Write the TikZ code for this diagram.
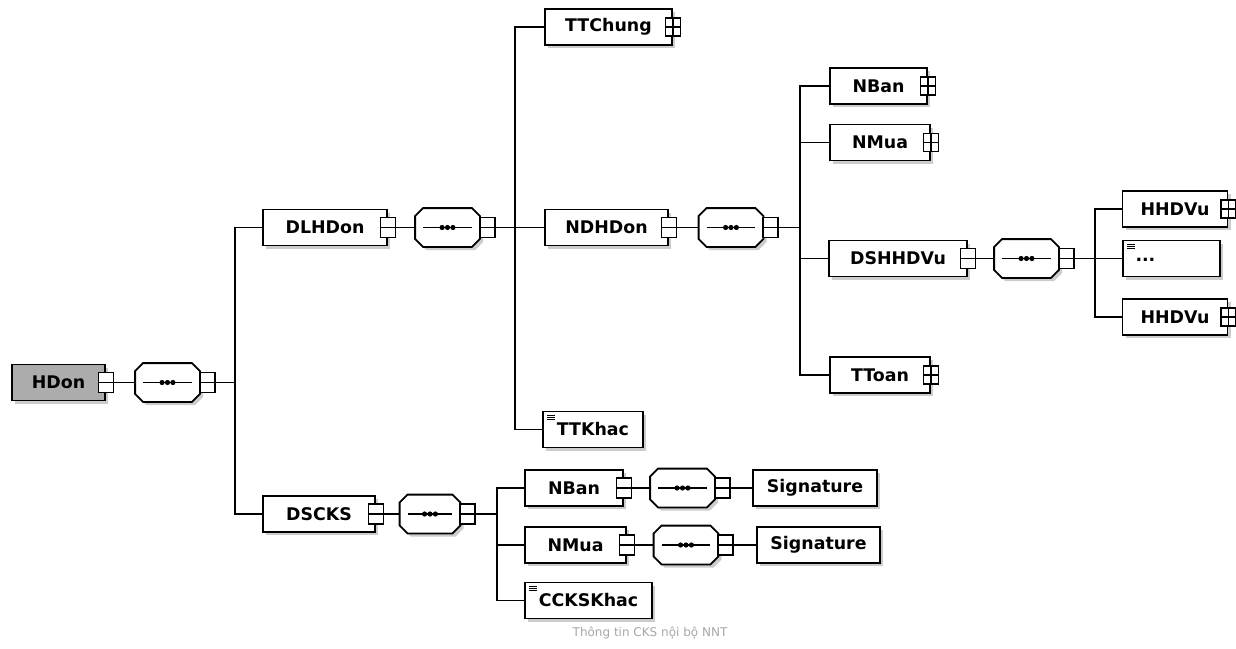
\documentclass[tikz,border=0pt]{standalone}
\usepackage{fontspec}
\newfontfamily\xsdfont{DejaVu Sans}
\usetikzlibrary{shadows}

% octagon of a sequence compositor, drawn round a node
\newcommand{\octpath}[1]{([xshift=4pt]#1.north west) -- ([xshift=-4pt]#1.north east) -- ([yshift=-4pt]#1.north east)
  -- ([yshift=4pt]#1.south east) -- ([xshift=-4pt]#1.south east) -- ([xshift=4pt]#1.south west)
  -- ([yshift=4pt]#1.south west) -- ([yshift=-4pt]#1.north west) -- cycle}
\newcommand{\seqoutline}[1]{%
  \fill[gray!40,transform canvas={shift={(1.6pt,-1.6pt)}}] \octpath{#1};
  \filldraw[fill=white,line width=0.9pt] \octpath{#1};
  \draw[line width=0.9pt] ([xshift=4pt]#1.west) -- ([xshift=-4pt]#1.east);
  \foreach \d in {-2.7,0,2.7}
    \fill ([xshift=\d pt]#1.center) circle (1.3pt);}

\tikzset{
  boxshadow/.style={drop shadow={shadow xshift=1.6pt,shadow yshift=-1.6pt,fill=gray!40,opacity=1}},
  elem/.style={draw,fill=white,line width=0.9pt,minimum height=18pt,inner sep=1pt,
    font=\xsdfont\bfseries\fontsize{8.7}{10}\selectfont,boxshadow},
  seqbox/.style={minimum width=32pt,minimum height=19pt,inner sep=0pt,
    append after command={\pgfextra{\seqoutline{\tikzlastnode}}}},
  sqminus/.style={draw,fill=white,line width=0.8pt,minimum width=7.5pt,minimum height=10pt,inner sep=0pt,
    path picture={\draw[line width=0.8pt] (path picture bounding box.west) -- (path picture bounding box.east);}},
  sqplus/.style={draw,fill=white,line width=0.8pt,minimum width=7.5pt,minimum height=9pt,inner sep=0pt,
    path picture={\draw[line width=0.8pt] (path picture bounding box.west) -- (path picture bounding box.east);
      \draw[line width=0.8pt] (path picture bounding box.south) -- (path picture bounding box.north);}},
  anyicon/.style={path picture={
      \foreach \k in {1,2,3}
        \draw[line width=0.5pt] ([xshift=2pt,yshift=-\k*1.2pt-0.6pt]path picture bounding box.north west) -- ++(4pt,0);}},
  conn/.style={line width=0.9pt}
}

\begin{document}
\begin{tikzpicture}[x=0.5pt,y=-0.5pt]
\useasboundingbox (0,0) rectangle (1236,648);

% root
\node[elem,fill=gray!65,minimum width=46.5pt] (hdon) at (58.5,382.5) {HDon};
\node[sqminus] (hdonSq) at (hdon.east) {};
\node[seqbox] (seqH) at (167.5,382.5) {};
\node[sqminus,anchor=west] (seqHSq) at ([xshift=-0.5pt]seqH.east) {};
\coordinate (busH) at (235,0);

% DLHDon
\node[elem,minimum width=62pt] (dlhdon) at (325,227.5) {DLHDon};
\node[sqminus] (dlhdonSq) at (dlhdon.east) {};
\node[seqbox] (seqD) at (447.5,227.5) {};
\node[sqminus,anchor=west] (seqDSq) at ([xshift=-0.5pt]seqD.east) {};
\coordinate (busD) at (515,0);

\node[elem,minimum width=63.5pt] (ttchung) at (608.5,27) {TTChung};
\node[sqplus] (ttchungSq) at (ttchung.east) {};
\node[elem,minimum width=61.5pt] (ndhdon) at (606.5,227.5) {NDHDon};
\node[sqminus] (ndhdonSq) at (ndhdon.east) {};
\node[elem,anyicon,minimum width=50pt] (ttkhac) at (593,429.5) {TTKhac};

% NDHDon
\node[seqbox] (seqN) at (731,227.5) {};
\node[sqminus,anchor=west] (seqNSq) at ([xshift=-0.5pt]seqN.east) {};
\coordinate (busN) at (800,0);

\node[elem,minimum width=48.5pt] (nban) at (878.5,86) {NBan};
\node[sqplus] (nbanSq) at (nban.east) {};
\node[elem,minimum width=50pt] (nmua) at (880,142.5) {NMua};
\node[sqplus] (nmuaSq) at (nmua.east) {};
\node[elem,minimum width=69pt] (dshhdvu) at (898,258.5) {DSHHDVu};
\node[sqminus] (dshhdvuSq) at (dshhdvu.east) {};
\node[elem,minimum width=50pt] (ttoan) at (880,375) {TToan};
\node[sqplus] (ttoanSq) at (ttoan.east) {};

% DSHHDVu
\node[seqbox] (seqS) at (1026.5,258.5) {};
\node[sqminus,anchor=west] (seqSSq) at ([xshift=-0.5pt]seqS.east) {};
\coordinate (busS) at (1095,0);

\node[elem,minimum width=52.5pt] (hhdvuA) at (1175,209) {HHDVu};
\node[sqplus] (hhdvuASq) at (hhdvuA.east) {};
\node[elem,anyicon,minimum width=48.5pt,text width=36pt,align=left] (anyel) at (1171.5,258.5) {\raisebox{-3pt}{...}};
\node[elem,minimum width=52.5pt] (hhdvuB) at (1175,317) {HHDVu};
\node[sqplus] (hhdvuBSq) at (hhdvuB.east) {};

% DSCKS
\node[elem,minimum width=56pt] (dscks) at (319,514) {DSCKS};
\node[sqminus] (dscksSq) at (dscks.east) {};
\node[seqbox,minimum width=30pt] (seqC) at (430,514) {};
\node[sqminus,anchor=west] (seqCSq) at ([xshift=-0.5pt]seqC.east) {};
\coordinate (busC) at (497,0);

\node[elem,minimum width=49pt] (nbanB) at (574,488) {NBan};
\node[sqminus] (nbanBSq) at (nbanB.east) {};
\node[seqbox] (seqNB) at (682.5,488) {};
\node[sqminus,anchor=west] (seqNBSq) at ([xshift=-0.5pt]seqNB.east) {};
\node[elem,minimum width=62pt] (sigA) at (815,488) {Signature};

\node[elem,minimum width=50.5pt] (nmuaB) at (575.5,545) {NMua};
\node[sqminus] (nmuaBSq) at (nmuaB.east) {};
\node[seqbox] (seqNM) at (686,545) {};
\node[sqminus,anchor=west] (seqNMSq) at ([xshift=-0.5pt]seqNM.east) {};
\node[elem,minimum width=61.5pt] (sigB) at (818.5,545) {Signature};

\node[elem,anyicon,minimum width=63.5pt] (ccks) at (588.5,600.5) {CCKSKhac};

\node[font=\xsdfont\fontsize{6}{7}\selectfont,text=gray!70] (note) at (650,633) {Thông tin CKS nội bộ NNT};

% connectors
\draw[conn] (hdonSq) -- (seqH);
\draw[conn] (seqHSq.east) -- (busH |- seqHSq.east);
\draw[conn] (dlhdon.west) -| (busH |- seqHSq.east) |- (dscks.west);

\draw[conn] (dlhdonSq) -- (seqD);
\draw[conn] (seqDSq.east) -- (ndhdon.west);
\draw[conn] (ttchung.west) -| (busD |- ttkhac.west) -- (ttkhac.west);

\draw[conn] (ndhdonSq) -- (seqN);
\draw[conn] (seqNSq.east) -- (busN |- seqNSq.east);
\draw[conn] (nban.west) -| (busN |- ttoan.west) -- (ttoan.west);
\draw[conn] (nmua.west) -- (busN |- nmua.west);
\draw[conn] (dshhdvu.west) -- (busN |- dshhdvu.west);

\draw[conn] (dshhdvuSq) -- (seqS);
\draw[conn] (seqSSq.east) -- (anyel.west);
\draw[conn] (hhdvuA.west) -| (busS |- hhdvuB.west) -- (hhdvuB.west);

\draw[conn] (dscksSq) -- (seqC);
\draw[conn] (seqCSq.east) -- (busC |- seqCSq.east);
\draw[conn] (nbanB.west) -| (busC |- ccks.west) -- (ccks.west);
\draw[conn] (nmuaB.west) -- (busC |- nmuaB.west);

\draw[conn] (nbanBSq) -- (seqNB);
\draw[conn] (seqNBSq.east) -- (sigA.west);
\draw[conn] (nmuaBSq) -- (seqNM);
\draw[conn] (seqNMSq.east) -- (sigB.west);
\end{tikzpicture}
\end{document}
